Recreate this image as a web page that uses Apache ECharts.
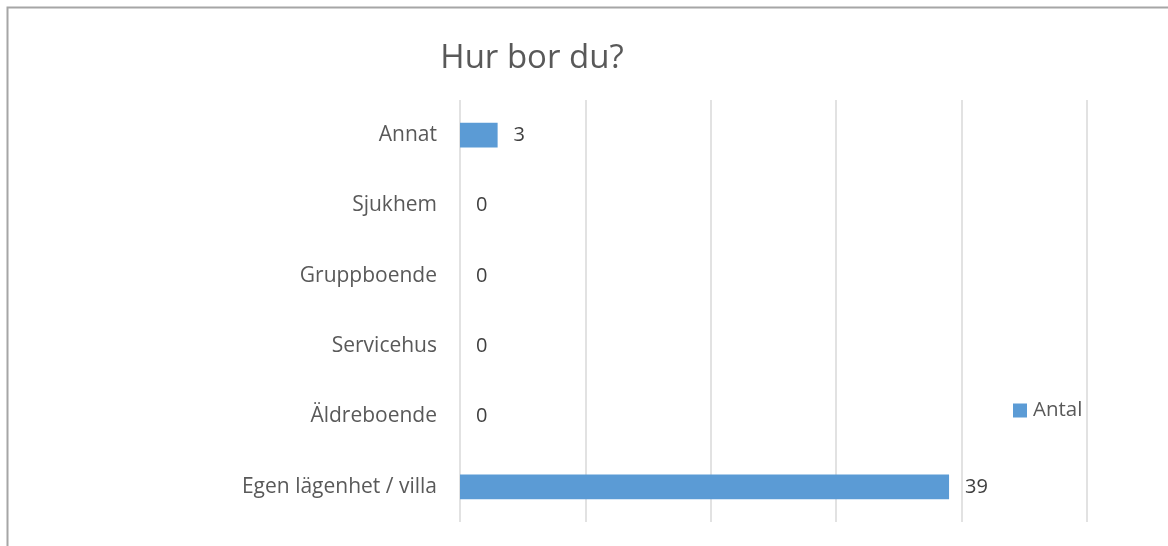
<!DOCTYPE html>
<html>
<head>
<meta charset="utf-8">
<script src="https://cdn.jsdelivr.net/npm/echarts@6/dist/echarts.min.js"></script>
<style>
html,body{margin:0;padding:0;background:#fff;}
#c{width:1168px;height:546px;}
</style>
</head>
<body>
<div id="c"></div>
<script>
const categories = ["Egen lägenhet / villa", "Äldreboende", "Servicehus", "Gruppboende", "Sjukhem", "Annat"];
const values = [39, 0, 0, 0, 0, 3];
const seriesName = "Antal";
const titleText = "Hur bor du?";

const chart = echarts.init(document.getElementById('c'), null, {renderer: 'canvas'});
chart.setOption({
  animation: false,
  backgroundColor: '#ffffff',
  title: {
    text: titleText,
    left: 532, top: 42, textAlign: 'center', padding: 0,
    textStyle: {fontFamily: 'Open Sans', fontWeight: 'normal', fontSize: 33, color: '#595959'}
  },
  graphic: [{
    type: 'rect', silent: true,
    shape: {x: 7.5, y: 7.5, width: 1300, height: 700},
    style: {fill: 'none', stroke: '#a6a6a6', lineWidth: 2}
  }],
  legend: {
    data: [seriesName],
    left: 1013, top: 400, padding: 0,
    itemWidth: 14, itemHeight: 14, itemGap: 6,
    icon: 'rect',
    textStyle: {fontFamily: 'Open Sans', fontSize: 20.5, color: '#595959', padding: [0,0,0,1]}
  },
  grid: {left: 460, right: 81, top: 100, bottom: 24, containLabel: false},
  xAxis: {
    type: 'value', min: 0, max: 50, interval: 10,
    axisLabel: {show: false}, axisLine: {show: false}, axisTick: {show: false},
    splitLine: {show: true, lineStyle: {color: '#d9d9d9', width: 1.5}}
  },
  yAxis: {
    type: 'category', data: categories,
    axisLine: {show: false}, axisTick: {show: false},
    axisLabel: {fontFamily: 'Open Sans', fontSize: 21, color: '#595959', margin: 23}
  },
  series: [{
    name: seriesName, type: 'bar', data: values,
    barWidth: '35%',
    itemStyle: {color: '#5b9bd5'},
    label: {show: true, position: 'right', distance: 16, fontFamily: 'Open Sans', fontSize: 20, color: '#404040'}
  }]
});
</script>
</body>
</html>
